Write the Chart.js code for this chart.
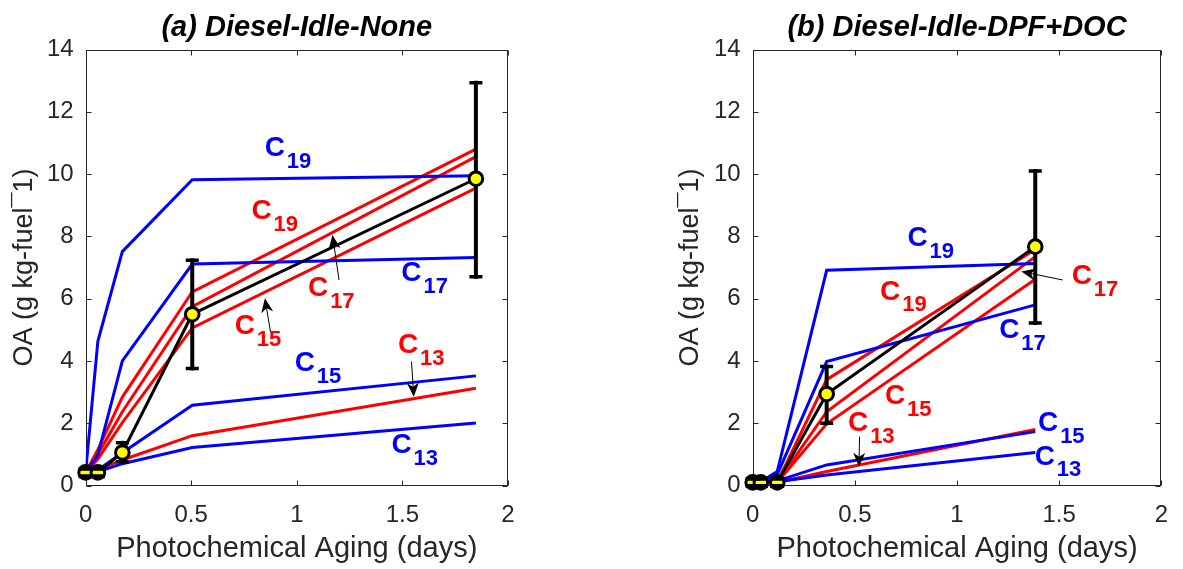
<!DOCTYPE html>
<html>
<head>
<meta charset="utf-8">
<script src="https://cdn.jsdelivr.net/npm/chart.js@4.4.0/dist/chart.umd.min.js"></script>
<style>
html,body{margin:0;padding:0;background:#fff;}
#wrap{position:relative;width:1183px;height:569px;overflow:hidden;background:#fff;}
#ca{position:absolute;left:0;top:0;}
#cb{position:absolute;left:591px;top:0;}
</style>
</head>
<body>
<div id="wrap">
<canvas id="ca" width="591" height="569"></canvas>
<canvas id="cb" width="592" height="569"></canvas>
</div>
<script>
// ---------- shared axis ticks ----------
const xTickValues = [0, 0.5, 1, 1.5, 2];
const xTickLabels = ['0', '0.5', '1', '1.5', '2'];
const yTickValues = [0, 2, 4, 6, 8, 10, 12, 14];
const yTickLabels = ['0', '2', '4', '6', '8', '10', '12', '14'];

// ---------- Panel (a) Diesel-Idle-None ----------
const timeA   = [0, 0.058, 0.174, 0.505, 1.848];
const oaMeasA = [0.42, 0.42, 1.06, 5.50, 9.85];
const oaLowA  = [0.30, 0.30, 0.76, 3.76, 6.70];
const oaHighA = [0.54, 0.54, 1.37, 7.23, 12.93];
const blueC13A = [0.42, 0.44, 0.70, 1.22, 2.01];
const blueC15A = [0.42, 0.50, 1.05, 2.58, 3.52];
const blueC17A = [0.42, 0.98, 4.00, 7.11, 7.32];
const blueC19A = [0.42, 4.63, 7.51, 9.82, 9.95];
const redC13A  = [0.42, 0.50, 0.82, 1.60, 3.12];
const redC15A  = [0.42, 0.85, 2.02, 5.06, 9.55];
const redC17A  = [0.42, 1.00, 2.37, 5.74, 10.56];
const redC19A  = [0.42, 1.15, 2.84, 6.22, 10.80];

// ---------- Panel (b) Diesel-Idle-DPF+DOC ----------
const timeB   = [0, 0.04, 0.12, 0.362, 1.383];
const oaMeasB = [0.10, 0.10, 0.10, 2.94, 7.67];
const oaLowB  = [-0.02, -0.02, -0.02, 2.00, 5.22];
const oaHighB = [0.22, 0.22, 0.22, 3.82, 10.10];
const blueC13B = [0.10, 0.10, 0.12, 0.34, 1.06];
const blueC15B = [0.10, 0.10, 0.15, 0.66, 1.73];
const blueC17B = [0.10, 0.12, 0.35, 3.98, 5.80];
const blueC19B = [0.10, 0.12, 0.45, 6.91, 7.13];
const redC13B  = [0.10, 0.10, 0.10, 0.45, 1.80];
const redC15B  = [0.10, 0.10, 0.10, 1.98, 6.62];
const redC17B  = [0.10, 0.10, 0.10, 2.37, 7.35];
const redC19B  = [0.10, 0.10, 0.10, 3.40, 7.58];

// ---------- annotation text (data-space anchors) ----------
const labelsA = [
  {t:'C', s:'19', c:'#0000ff', x:0.896, y:10.83},
  {t:'C', s:'19', c:'#ff0000', x:0.833, y:8.79},
  {t:'C', s:'17', c:'#ff0000', x:1.101, y:6.33},
  {t:'C', s:'17', c:'#0000ff', x:1.543, y:6.81},
  {t:'C', s:'15', c:'#ff0000', x:0.754, y:5.10},
  {t:'C', s:'15', c:'#0000ff', x:1.038, y:3.92},
  {t:'C', s:'13', c:'#ff0000', x:1.527, y:4.51},
  {t:'C', s:'13', c:'#0000ff', x:1.496, y:1.30}
];
const arrowsA = [
  {x1:1.200, y1:6.60, x2:1.169, y2:8.04},
  {x1:0.876, y1:4.91, x2:0.849, y2:6.01},
  {x1:1.543, y1:3.98, x2:1.554, y2:2.85}
];
const labelsB = [
  {t:'C', s:'19', c:'#0000ff', x:0.807, y:7.94},
  {t:'C', s:'19', c:'#ff0000', x:0.673, y:6.22},
  {t:'C', s:'17', c:'#ff0000', x:1.611, y:6.71},
  {t:'C', s:'17', c:'#0000ff', x:1.256, y:4.99},
  {t:'C', s:'15', c:'#ff0000', x:0.697, y:2.87},
  {t:'C', s:'13', c:'#ff0000', x:0.516, y:2.00},
  {t:'C', s:'15', c:'#0000ff', x:1.446, y:2.00},
  {t:'C', s:'13', c:'#0000ff', x:1.430, y:0.92}
];
const arrowsB = [
  {x1:1.517, y1:6.60, x2:1.315, y2:6.87},
  {x1:0.523, y1:1.57, x2:0.520, y2:0.60}
];

const FONT = "'Liberation Sans', Arial, Helvetica, sans-serif";
const AXCOL = '#262626';

function boxPlugin() {
  return {
    id: 'boxTicks',
    beforeDatasetsDraw(chart) {
      const {ctx, chartArea: a, scales: {x, y}} = chart;
      ctx.save();
      ctx.strokeStyle = AXCOL;
      ctx.lineWidth = 1;
      const L = Math.round(a.left) + 0.5, R = Math.round(a.right) - 0.5;
      const T = Math.round(a.top) + 0.5, B = Math.round(a.bottom) - 0.5;
      ctx.strokeRect(L, T, R - L, B - T);
      const tl = 5;
      ctx.beginPath();
      xTickValues.forEach(v => {
        const px = Math.round(x.getPixelForValue(v)) + 0.5;
        ctx.moveTo(px, B); ctx.lineTo(px, B - tl);
        ctx.moveTo(px, T); ctx.lineTo(px, T + tl);
      });
      yTickValues.forEach(v => {
        const py = Math.round(y.getPixelForValue(v)) + 0.5;
        ctx.moveTo(L, py); ctx.lineTo(L + tl, py);
        ctx.moveTo(R, py); ctx.lineTo(R - tl, py);
      });
      ctx.stroke();
      ctx.restore();
    }
  };
}

function errPlugin(time, lo, hi) {
  return {
    id: 'errbars',
    afterDatasetDraw(chart, args) {
      const ds = chart.data.datasets[args.index];
      const {ctx, scales: {x, y}} = chart;
      ctx.save();
      ctx.strokeStyle = '#000';
      ctx.lineCap = 'butt';
      time.forEach((t, i) => {
        const px = x.getPixelForValue(t);
        const pLo = y.getPixelForValue(lo[i]);
        const pHi = y.getPixelForValue(hi[i]);
        const half = (pLo - pHi) / 2;
        if (ds.role === 'line' && half > 6) {
          ctx.lineWidth = 4;
          ctx.beginPath();
          ctx.moveTo(px, pLo + 2); ctx.lineTo(px, pHi - 2);
          ctx.stroke();
          ctx.lineWidth = 3.5;
          ctx.beginPath();
          ctx.moveTo(px - 6.5, pLo); ctx.lineTo(px + 6.5, pLo);
          ctx.moveTo(px - 6.5, pHi); ctx.lineTo(px + 6.5, pHi);
          ctx.stroke();
        } else if (ds.role === 'points' && half <= 6) {
          ctx.lineWidth = 4;
          ctx.beginPath();
          ctx.moveTo(px - 7, pLo); ctx.lineTo(px + 7, pLo);
          ctx.moveTo(px - 7, pHi); ctx.lineTo(px + 7, pHi);
          ctx.stroke();
        }
      });
      ctx.restore();
    }
  };
}

function annPlugin(labels, arrows) {
  return {
    id: 'ann',
    afterDraw(chart) {
      const {ctx, scales: {x, y}} = chart;
      ctx.save();
      arrows.forEach(a => {
        const x1 = x.getPixelForValue(a.x1), y1 = y.getPixelForValue(a.y1);
        const x2 = x.getPixelForValue(a.x2), y2 = y.getPixelForValue(a.y2);
        const ang = Math.atan2(y2 - y1, x2 - x1);
        const len = 14, hw = 6, notch = 10;
        const c = Math.cos(ang), s = Math.sin(ang);
        ctx.strokeStyle = '#000';
        ctx.lineWidth = 1;
        ctx.beginPath();
        ctx.moveTo(x1, y1);
        ctx.lineTo(x2 - c * notch, y2 - s * notch);
        ctx.stroke();
        ctx.fillStyle = '#000';
        ctx.beginPath();
        ctx.moveTo(x2, y2);
        ctx.lineTo(x2 - c * len - s * hw, y2 - s * len + c * hw);
        ctx.lineTo(x2 - c * notch, y2 - s * notch);
        ctx.lineTo(x2 - c * len + s * hw, y2 - s * len - c * hw);
        ctx.closePath();
        ctx.fill();
      });
      labels.forEach(l => {
        const px = x.getPixelForValue(l.x), py = y.getPixelForValue(l.y);
        ctx.fillStyle = l.c;
        ctx.textBaseline = 'middle';
        ctx.textAlign = 'center';
        ctx.font = 'bold 28px ' + FONT;
        ctx.fillText(l.t, px, py);
        ctx.textAlign = 'left';
        ctx.font = 'bold 22px ' + FONT;
        ctx.fillText(l.s, px + 12, py + 13.5);
      });
      ctx.restore();
    }
  };
}

function makePanel(canvasId, title, time, meas, lo, hi, models, labels, arrows, pad) {
  const datasets = models.map(m => ({
    label: m.name,
    data: time.map((t, i) => ({x: t, y: m.v[i]})),
    borderColor: m.c,
    borderWidth: 3,
    pointRadius: 0,
    fill: false,
    tension: 0,
    order: 2
  }));
  datasets.push({
    label: 'OA measured line', role: 'line',
    data: time.map((t, i) => ({x: t, y: meas[i]})),
    borderColor: '#000', borderWidth: 3, pointRadius: 0, fill: false, tension: 0, order: 1
  });
  datasets.push({
    label: 'OA measured', role: 'points',
    data: time.map((t, i) => ({x: t, y: meas[i]})),
    showLine: false, pointRadius: 6.8, pointBorderWidth: 3,
    pointBackgroundColor: '#ffff00', pointBorderColor: '#000', order: 0, clip: false
  });

  return new Chart(document.getElementById(canvasId), {
    type: 'line',
    data: {datasets},
    options: {
      responsive: false,
      animation: false,
      devicePixelRatio: 1,
      layout: {padding: {left: pad.left, right: pad.right, top: 10.1, bottom: 0}},
      plugins: {
        legend: {display: false},
        tooltip: {enabled: false},
        title: {
          display: true, text: title, fullSize: false,
          color: '#000',
          font: {family: FONT, size: 29, weight: 'bold', style: 'italic', lineHeight: 1.2},
          padding: {top: 0, bottom: 4.6}
        }
      },
      scales: {
        x: {
          type: 'linear', min: 0, max: 2,
          afterBuildTicks: s => { s.ticks = xTickValues.map(v => ({value: v})); },
          afterFit: s => { s.height = 569 - 485.5; },
          grid: {display: false, drawTicks: false},
          border: {display: false},
          ticks: {
            color: AXCOL, padding: 15, maxRotation: 0, autoSkip: false,
            font: {family: FONT, size: 24, lineHeight: 1.2},
            callback: (v, i) => xTickLabels[i]
          },
          title: {
            display: true, text: 'Photochemical Aging (days)', color: AXCOL,
            font: {family: FONT, size: 29, lineHeight: 1},
            padding: {top: 0, bottom: 5.9}
          }
        },
        y: {
          type: 'linear', min: 0, max: 14,
          afterBuildTicks: s => { s.ticks = yTickValues.map(v => ({value: v})); },
          afterFit: s => { s.width = pad.yWidth; },
          grid: {display: false, drawTicks: false},
          border: {display: false},
          ticks: {
            color: AXCOL, padding: 12, autoSkip: false,
            font: {family: FONT, size: 24, lineHeight: 1.2},
            callback: (v, i) => yTickLabels[i]
          },
          title: {
            display: true, text: 'OA (g kg-fuel\u00AF1)', color: AXCOL,
            font: {family: FONT, size: 27, lineHeight: 1},
            padding: {top: 11, bottom: 0}
          }
        }
      }
    },
    plugins: [boxPlugin(), errPlugin(time, lo, hi), annPlugin(labels, arrows)]
  });
}

const BLUE = '#0000ff', RED = '#ff0000';

makePanel('ca', '(a) Diesel-Idle-None', timeA, oaMeasA, oaLowA, oaHighA, [
  {name: 'C13 blue', c: BLUE, v: blueC13A},
  {name: 'C15 blue', c: BLUE, v: blueC15A},
  {name: 'C17 blue', c: BLUE, v: blueC17A},
  {name: 'C19 blue', c: BLUE, v: blueC19A},
  {name: 'C13 red', c: RED, v: redC13A},
  {name: 'C15 red', c: RED, v: redC15A},
  {name: 'C17 red', c: RED, v: redC17A},
  {name: 'C19 red', c: RED, v: redC19A}
], labelsA, arrowsA, {left: 0, right: 83, yWidth: 85.6});

makePanel('cb', '(b) Diesel-Idle-DPF+DOC', timeB, oaMeasB, oaLowB, oaHighB, [
  {name: 'C13 blue', c: BLUE, v: blueC13B},
  {name: 'C15 blue', c: BLUE, v: blueC15B},
  {name: 'C17 blue', c: BLUE, v: blueC17B},
  {name: 'C19 blue', c: BLUE, v: blueC19B},
  {name: 'C13 red', c: RED, v: redC13B},
  {name: 'C15 red', c: RED, v: redC15B},
  {name: 'C17 red', c: RED, v: redC17B},
  {name: 'C19 red', c: RED, v: redC19B}
], labelsB, arrowsB, {left: 74.7, right: 7.5, yWidth: 87});
</script>
</body>
</html>
